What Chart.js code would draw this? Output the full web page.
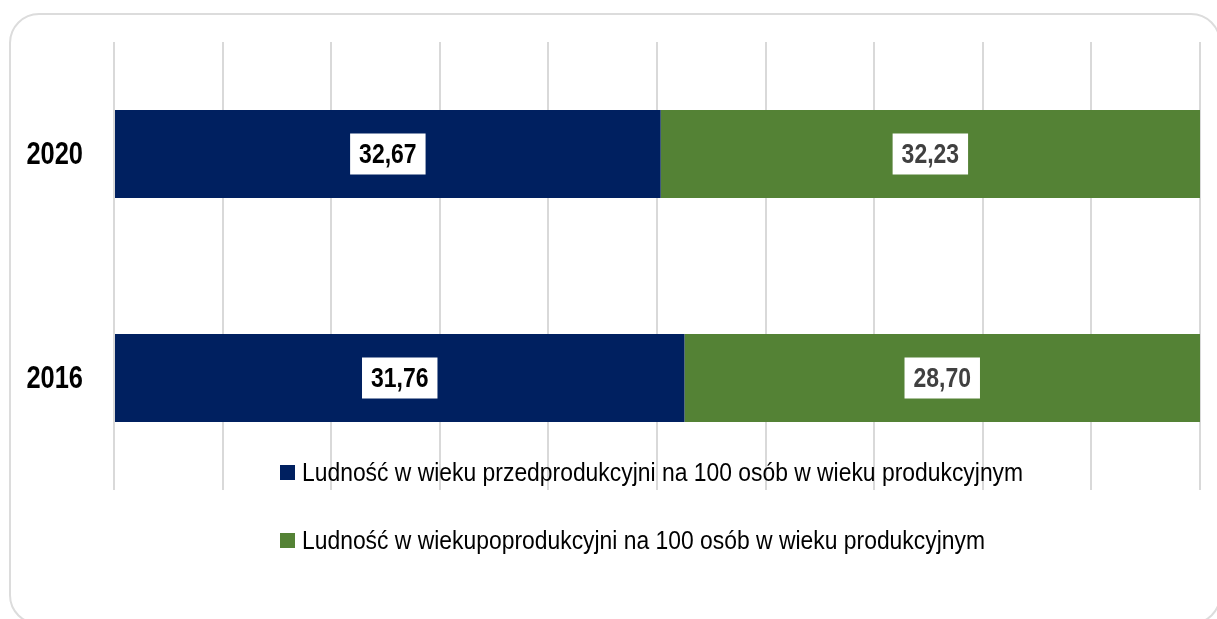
<!DOCTYPE html>
<html>
<head>
<meta charset="utf-8">
<script src="https://cdn.jsdelivr.net/npm/chart.js@4.4.0/dist/chart.umd.min.js"></script>
<style>
html, body { margin: 0; padding: 0; background: #fff; overflow: hidden; }
#frame { position: absolute; left: 9px; top: 13px; width: 1212px; height: 612px; border: 2px solid #dcdcdc; border-radius: 30px; box-sizing: border-box; }
#wrap { position: absolute; left: 0; top: 0; width: 1217px; height: 619px; }
</style>
</head>
<body>
<div id="frame"></div>
<div id="wrap"><canvas id="chart" width="1217" height="619"></canvas></div>
<script>
// data
var years = ['2020', '2016'];
var seriesNames = [
    'Ludność w wieku przedprodukcyjni na 100 osób w wieku produkcyjnym',
    'Ludność w wiekupoprodukcyjni na 100 osób w wieku produkcyjnym'
];
var preProd = [32.67, 31.76];
var postProd = [32.23, 28.70];
var xTicks = [0, 10, 20, 30, 40, 50, 60, 70, 80, 90, 100];

// no narrow font installed, so Liberation Sans squeezed like Arial Narrow
var FONT = "'Liberation Sans', Arial, sans-serif";
var NARROW = 0.82;
var LEGEND_NARROW = 0.88;
var NAVY = '#002060';
var GREEN = '#548235';

// 100% stacked: share of each part in the bar
function share(a, b) {
    return a.map(function(v, i) { return v / (a[i] + b[i]) * 100; });
}

function narrowText(ctx, txt, x, y, k) {
    ctx.save();
    ctx.translate(x, y);
    ctx.scale(k || NARROW, 1);
    ctx.fillText(txt, 0, 0);
    ctx.restore();
}

// === year labels next to the bars ===
var yearLabels = {
    id: 'yearLabels',
    afterDraw: function(chart) {
        var ctx = chart.ctx;
        var scale = chart.scales.y;
        ctx.save();
        ctx.font = 'bold 31px ' + FONT;
        ctx.textAlign = 'right';
        ctx.textBaseline = 'middle';
        ctx.fillStyle = '#000000';
        scale.getLabels().forEach(function(lbl, i) {
            narrowText(ctx, lbl, scale.right - 31, scale.getPixelForTick(i) + 1);
        });
        ctx.restore();
    }
};

// === white boxes with values on the bars ===
var valueLabels = {
    id: 'valueLabels',
    afterDatasetsDraw: function(chart) {
        var ctx = chart.ctx;
        ctx.save();
        ctx.font = 'bold 28px ' + FONT;
        ctx.textAlign = 'center';
        ctx.textBaseline = 'middle';
        chart.data.datasets.forEach(function(ds, i) {
            chart.getDatasetMeta(i).data.forEach(function(bar, j) {
                var txt = ds.raw[j].toFixed(2).replace('.', ',');
                var cx = (bar.x + bar.base) / 2;
                var w = ctx.measureText(txt).width * NARROW + 18;
                ctx.fillStyle = '#ffffff';
                ctx.fillRect(cx - w / 2, bar.y - 20.5, w, 41);
                ctx.fillStyle = ds.labelColor;
                narrowText(ctx, txt, cx, bar.y + 1);
            });
        });
        ctx.restore();
    }
};

// === legend drawn inside the plot, over the gridlines ===
var innerLegend = {
    id: 'innerLegend',
    afterDraw: function(chart) {
        var ctx = chart.ctx;
        ctx.save();
        ctx.font = '26px ' + FONT;
        ctx.textBaseline = 'middle';
        chart.data.datasets.forEach(function(ds, i) {
            var y = chart.chartArea.bottom - 17.5 + i * 68;
            ctx.fillStyle = ds.backgroundColor;
            ctx.fillRect(280, y - 7.5, 15, 15);
            ctx.fillStyle = '#000000';
            narrowText(ctx, ds.label, 302, y + 1, LEGEND_NARROW);
        });
        ctx.restore();
    }
};

var ctx = document.getElementById('chart').getContext('2d');
var chart = new Chart(ctx, {
    type: 'bar',
    data: {
        labels: years,
        datasets: [{
            label: seriesNames[0],
            data: share(preProd, postProd),
            raw: preProd,
            labelColor: '#000000',
            backgroundColor: NAVY
        }, {
            label: seriesNames[1],
            data: share(postProd, preProd),
            raw: postProd,
            labelColor: '#404040',
            backgroundColor: GREEN
        }]
    },
    options: {
        indexAxis: 'y',
        responsive: false,
        animation: false,
        layout: { padding: { top: 42, bottom: 129, left: 0, right: 17 } },
        datasets: { bar: { categoryPercentage: 1, barPercentage: 88 / 224 } },
        plugins: {
            legend: { display: false },
            tooltip: { enabled: false }
        },
        scales: {
            x: {
                stacked: true,
                min: 0,
                max: 100,
                afterBuildTicks: function(scale) {
                    scale.ticks = xTicks.map(function(v) { return { value: v }; });
                },
                ticks: { display: false },
                grid: { color: '#d9d9d9', lineWidth: 2, drawTicks: false },
                border: { display: false }
            },
            y: {
                stacked: true,
                afterFit: function(scale) { scale.width = 114; },
                ticks: { display: false },
                grid: { display: false, drawTicks: false },
                border: { display: false }
            }
        }
    },
    plugins: [valueLabels, innerLegend, yearLabels]
});
</script>
</body>
</html>
